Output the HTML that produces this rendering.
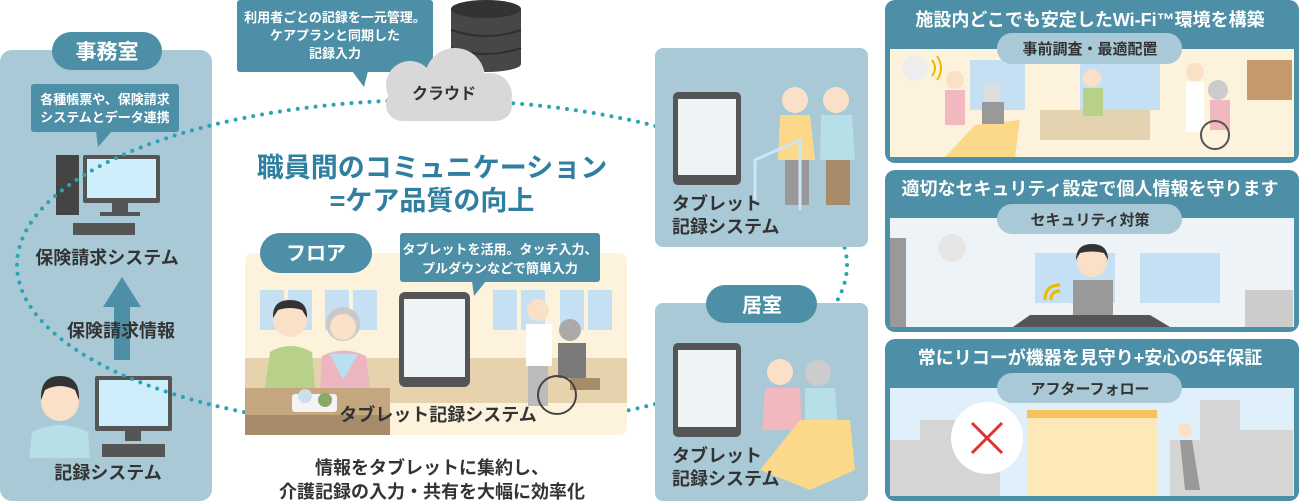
<!DOCTYPE html>
<html><head><meta charset="utf-8"><style>
html,body{margin:0;padding:0;background:#fff;width:1300px;height:503px;overflow:hidden}
svg{display:block}
text{font-family:"Liberation Sans","Noto Sans CJK JP",sans-serif;font-weight:bold}
</style></head><body>
<svg width="1300" height="503" viewBox="0 0 1300 503" xmlns="http://www.w3.org/2000/svg">
<!-- left panel -->
<rect x="0" y="50" width="212" height="451" rx="12" fill="#a8c9d5"/>
<rect x="52" y="32" width="110" height="38" rx="19" fill="#4d8fa7"/>
<text x="107" y="59" font-size="21" fill="#fff" text-anchor="middle">事務室</text>
<rect x="31" y="84" width="148" height="48" rx="3" fill="#4d8fa7"/>
<path d="M96 131 L98 147 L112 131Z" fill="#4d8fa7"/>
<text x="105" y="104" font-size="13" fill="#fff" text-anchor="middle">各種帳票や、保険請求</text>
<text x="105" y="122" font-size="13" fill="#fff" text-anchor="middle">システムとデータ連携</text>
<!-- PC 1 -->
<rect x="56" y="155" width="23" height="60" fill="#444"/>
<rect x="83" y="155" width="77" height="48" rx="2" fill="#555"/>
<rect x="87" y="159" width="69" height="39" fill="#cdeefa"/>
<rect x="112" y="203" width="16" height="10" fill="#555"/>
<rect x="100" y="212" width="40" height="4" fill="#555"/>
<rect x="73" y="223" width="62" height="12" fill="#555"/>
<text x="107" y="264" font-size="18" fill="#333" text-anchor="middle">保険請求システム</text>
<!-- arrow -->
<path d="M122 277 L141 307 L130 307 L130 360 L114 360 L114 307 L103 307Z" fill="#4d8fa7"/>
<text x="121" y="337" font-size="18" fill="#333" text-anchor="middle">保険請求情報</text>
<!-- person + PC -->
<circle cx="60" cy="402" r="19" fill="#fbe0c8"/>
<path d="M41 400 Q40 376 60 376 Q80 376 79 400 L75 390 Q60 382 45 390Z" fill="#333"/>
<path d="M29 458 L32 432 Q60 418 88 432 L90 458Z" fill="#b6dfe8"/>
<rect x="95" y="376" width="77" height="55" rx="2" fill="#555"/>
<rect x="99" y="380" width="69" height="46" fill="#cdeefa"/>
<rect x="125" y="431" width="16" height="10" fill="#555"/>
<rect x="102" y="444" width="63" height="13" fill="#555"/>
<text x="108" y="479" font-size="18" fill="#333" text-anchor="middle">記録システム</text>

<!-- dotted ellipse -->
<ellipse cx="432" cy="265" rx="415" ry="165" fill="none" stroke="#2aa3b5" stroke-width="4" stroke-linecap="round" stroke-dasharray="0 9"/>

<!-- top bubble -->
<rect x="237" y="0" width="196" height="72" rx="3" fill="#4d8fa7"/>
<path d="M352 71 L368 71 L364 87Z" fill="#4d8fa7"/>
<text x="335" y="22" font-size="13" fill="#fff" text-anchor="middle">利用者ごとの記録を一元管理。</text>
<text x="335" y="40" font-size="13" fill="#fff" text-anchor="middle">ケアプランと同期した</text>
<text x="335" y="58" font-size="13" fill="#fff" text-anchor="middle">記録入力</text>
<!-- db -->
<rect x="451" y="9" width="70" height="55" fill="#474747"/>
<ellipse cx="486" cy="9" rx="35" ry="9" fill="#333"/>
<path d="M451 30 Q486 42 521 30 M451 48 Q486 60 521 48" stroke="#2f2f2f" stroke-width="2" fill="none"/>
<ellipse cx="486" cy="64" rx="35" ry="8" fill="#474747"/>
<!-- cloud -->
<g fill="#d8d8d8">
<circle cx="410" cy="85" r="24"/><circle cx="455" cy="78" r="30"/><circle cx="490" cy="95" r="22"/>
<rect x="386" y="88" width="126" height="33" rx="16"/>
</g>
<text x="444" y="99" font-size="16" fill="#333" text-anchor="middle">クラウド</text>

<!-- title -->
<text x="432" y="177" font-size="27" fill="#2f7fa0" text-anchor="middle">職員間のコミュニケーション</text>
<text x="432" y="210" font-size="27" fill="#2f7fa0" text-anchor="middle">=ケア品質の向上</text>

<!-- floor panel -->
<rect x="245" y="253" width="382" height="182" rx="8" fill="#fdf3dc"/>
<rect x="245" y="358" width="382" height="45" fill="#e6d3ae"/>
<rect x="245" y="388" width="145" height="47" fill="#c4a77e"/>
<rect x="245" y="415" width="145" height="20" fill="#a88b68"/>
<g fill="#c4e0f2">
<rect x="260" y="290" width="24" height="40"/><rect x="288" y="290" width="24" height="40"/>
<rect x="325" y="290" width="24" height="40"/><rect x="353" y="290" width="24" height="40"/>
<rect x="493" y="290" width="24" height="40"/><rect x="521" y="290" width="24" height="40"/>
<rect x="560" y="290" width="24" height="40"/><rect x="588" y="290" width="24" height="40"/>
</g>
<circle cx="290" cy="320" r="17" fill="#fbe0c8"/>
<path d="M273 318 Q272 300 290 300 Q308 300 307 318 L302 310 Q290 306 278 310Z" fill="#333"/>
<path d="M265 388 L270 352 Q290 340 312 352 L315 388Z" fill="#b7d08a"/>
<circle cx="343" cy="324" r="17" fill="#c9c9c9"/>
<circle cx="343" cy="327" r="13" fill="#fbe0c8"/>
<path d="M320 388 L322 356 Q343 345 366 356 L370 388Z" fill="#ecb6c0"/>
<path d="M330 354 L343 380 L358 354Z" fill="#b9dff0"/>
<rect x="292" y="394" width="45" height="18" rx="3" fill="#f3f3f3"/>
<circle cx="305" cy="396" r="7" fill="#cde"/><circle cx="325" cy="400" r="7" fill="#8a6"/>
<rect x="399" y="292" width="71" height="95" rx="6" fill="#555"/>
<rect x="404" y="299" width="61" height="78" fill="#eef3f6"/>
<circle cx="538" cy="310" r="11" fill="#fbe0c8"/>
<rect x="526" y="324" width="26" height="42" fill="#fff"/>
<rect x="528" y="366" width="20" height="40" fill="#bbb"/>
<circle cx="570" cy="330" r="11" fill="#aaa"/>
<rect x="558" y="343" width="28" height="35" fill="#7a7a7a"/>
<rect x="570" y="378" width="30" height="12" fill="#a88b68"/>
<circle cx="557" cy="395" r="19" fill="none" stroke="#444" stroke-width="2"/>
<text x="438" y="421" font-size="18" fill="#333" text-anchor="middle">タブレット記録システム</text>
<rect x="260" y="233" width="112" height="40" rx="20" fill="#4d8fa7"/>
<text x="316" y="260" font-size="20" fill="#fff" text-anchor="middle">フロア</text>
<rect x="400" y="233" width="200" height="49" rx="3" fill="#4d8fa7"/>
<path d="M472 281 L474 296 L486 281Z" fill="#4d8fa7"/>
<text x="500" y="254" font-size="13" fill="#fff" text-anchor="middle">タブレットを活用。タッチ入力、</text>
<text x="500" y="273" font-size="13" fill="#fff" text-anchor="middle">プルダウンなどで簡単入力</text>

<text x="432" y="474" font-size="18" fill="#333" text-anchor="middle">情報をタブレットに集約し、</text>
<text x="432" y="498" font-size="18" fill="#333" text-anchor="middle">介護記録の入力・共有を大幅に効率化</text>

<!-- right-middle panels -->
<rect x="655" y="48" width="213" height="199" rx="8" fill="#a8c9d5"/>
<rect x="673" y="92" width="68" height="93" rx="5" fill="#555"/>
<rect x="678" y="99" width="58" height="76" fill="#eef3f6"/>
<circle cx="795" cy="100" r="13" fill="#fbe0c8"/>
<path d="M780 115 L810 115 L815 160 L778 160Z" fill="#fcd98a"/>
<rect x="785" y="160" width="24" height="45" fill="#999"/>
<circle cx="836" cy="100" r="13" fill="#fbe0c8"/>
<path d="M821 115 L852 115 L855 160 L820 160Z" fill="#b6dfe8"/>
<rect x="826" y="160" width="24" height="45" fill="#a88b68"/>
<path d="M755 200 L755 160 L800 140 L800 210" stroke="#cde6f5" stroke-width="3" fill="none"/>
<text x="672" y="210" font-size="18" fill="#333">タブレット</text>
<text x="672" y="233" font-size="18" fill="#333">記録システム</text>

<rect x="655" y="303" width="213" height="198" rx="8" fill="#a8c9d5"/>
<rect x="673" y="343" width="68" height="94" rx="5" fill="#555"/>
<rect x="678" y="350" width="58" height="77" fill="#eef3f6"/>
<circle cx="780" cy="372" r="13" fill="#fbe0c8"/>
<circle cx="818" cy="373" r="13" fill="#ccc"/>
<path d="M765 388 L800 388 L802 430 L762 430Z" fill="#f2b8bf"/>
<path d="M805 388 L835 388 L838 430 L805 430Z" fill="#b6dfe8"/>
<path d="M760 470 L800 420 L850 420 L855 470 L810 490Z" fill="#fcd98a"/>
<text x="672" y="462" font-size="18" fill="#333">タブレット</text>
<text x="672" y="485" font-size="18" fill="#333">記録システム</text>
<rect x="706" y="285" width="111" height="38" rx="19" fill="#4d8fa7"/>
<text x="762" y="312" font-size="20" fill="#fff" text-anchor="middle">居室</text>

<!-- right column -->
<g>
<rect x="885" y="0" width="414" height="163" rx="10" fill="#4d8fa7"/>
<rect x="890" y="49" width="404" height="108" fill="#fdf3dc"/>
<rect x="970" y="60" width="55" height="50" fill="#c4e0f2"/>
<rect x="1080" y="60" width="80" height="50" fill="#c4e0f2"/>
<rect x="1040" y="110" width="110" height="30" fill="#e2d2b0"/>
<path d="M945 157 L975 125 L1020 120 L1015 157Z" fill="#fcd98a"/>
<circle cx="915" cy="68" r="13" fill="#eee"/>
<path d="M932 60 Q938 68 932 76 M937 56 Q945 68 937 80" stroke="#f0b800" stroke-width="2" fill="none"/>
<circle cx="955" cy="80" r="9" fill="#fbe0c8"/>
<rect x="945" y="90" width="20" height="35" fill="#f2b8bf"/>
<circle cx="992" cy="92" r="9" fill="#ddd"/>
<rect x="982" y="102" width="22" height="22" fill="#999"/>
<circle cx="1092" cy="78" r="9" fill="#fbe0c8"/>
<rect x="1083" y="88" width="20" height="28" fill="#b7d08a"/>
<circle cx="1195" cy="72" r="9" fill="#fbe0c8"/>
<rect x="1186" y="82" width="18" height="50" fill="#fff"/>
<circle cx="1218" cy="90" r="10" fill="#ccc"/>
<rect x="1210" y="100" width="20" height="30" fill="#f2b8bf"/>
<circle cx="1215" cy="135" r="14" fill="none" stroke="#555" stroke-width="2"/>
<rect x="1247" y="60" width="45" height="40" fill="#c49a6c"/>
<rect x="997" y="33" width="185" height="31" rx="15" fill="#a8c9d5"/>
<text x="1090" y="54" font-size="15" fill="#333" text-anchor="middle">事前調査・最適配置</text>
<text x="1090" y="26" font-size="18" fill="#fff" text-anchor="middle">施設内どこでも安定したWi-Fi™環境を構築</text>
</g>
<g>
<rect x="885" y="170" width="414" height="162" rx="10" fill="#4d8fa7"/>
<rect x="890" y="218" width="404" height="109" fill="#eef3f7"/>
<rect x="890" y="238" width="16" height="89" fill="#999"/>
<rect x="1035" y="253" width="80" height="50" fill="#c4e0f2"/>
<rect x="1140" y="253" width="80" height="50" fill="#c4e0f2"/>
<rect x="1245" y="290" width="48" height="37" fill="#ccc"/>
<circle cx="952" cy="248" r="14" fill="#e6e6e6"/>
<circle cx="1092" cy="262" r="15" fill="#fbe0c8"/>
<path d="M1076 260 Q1076 244 1092 244 Q1108 244 1108 260 L1104 253 Q1092 250 1080 253Z" fill="#333"/>
<rect x="1073" y="280" width="40" height="35" fill="#999"/>
<path d="M1045 300 Q1045 285 1060 285 M1051 300 Q1051 291 1060 291" stroke="#f0b800" stroke-width="3" fill="none"/>
<path d="M1013 327 L1030 315 L1150 315 L1170 327Z" fill="#555"/>
<rect x="997" y="204" width="185" height="30" rx="15" fill="#a8c9d5"/>
<text x="1090" y="225" font-size="15" fill="#333" text-anchor="middle">セキュリティ対策</text>
<text x="1090" y="195" font-size="18" fill="#fff" text-anchor="middle">適切なセキュリティ設定で個人情報を守ります</text>
</g>
<g>
<rect x="885" y="339" width="414" height="162" rx="10" fill="#4d8fa7"/>
<rect x="890" y="388" width="404" height="108" fill="#dff0fb"/>
<path d="M890 440 L920 440 L920 420 L960 420 L960 445 L1000 445 L1000 496 L890 496Z" fill="#d5d5d5"/>
<path d="M1170 496 L1170 440 L1200 440 L1200 400 L1240 400 L1240 430 L1293 430 L1293 496Z" fill="#d5d5d5"/>
<rect x="1027" y="410" width="130" height="86" fill="#fde8b8"/>
<rect x="1027" y="410" width="130" height="8" fill="#f7c15c"/>
<circle cx="987" cy="438" r="36" fill="#fff"/>
<path d="M972 423 L1002 453 M1002 423 L972 453" stroke="#e03030" stroke-width="3"/>
<circle cx="1185" cy="430" r="7" fill="#fbe0c8"/>
<path d="M1180 440 L1192 440 L1200 490 L1185 490Z" fill="#999"/>
<rect x="997" y="373" width="185" height="30" rx="15" fill="#a8c9d5"/>
<text x="1090" y="394" font-size="15" fill="#333" text-anchor="middle">アフターフォロー</text>
<text x="1090" y="364" font-size="18" fill="#fff" text-anchor="middle">常にリコーが機器を見守り+安心の5年保証</text>
</g>
</svg>
</body></html>
